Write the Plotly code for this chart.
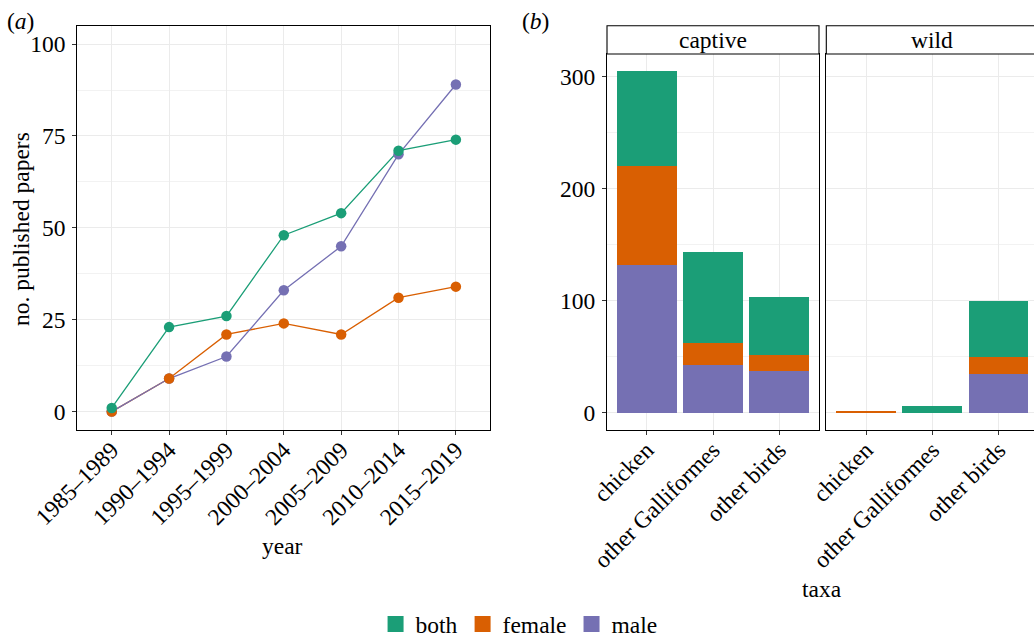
import plotly.graph_objects as go

# ---------------- data ----------------
periods = ["1985–1989", "1990–1994", "1995–1999", "2000–2004", "2005–2009", "2010–2014", "2015–2019"]
both_year = [1, 23, 26, 48, 54, 71, 74]
female_year = [0, 9, 21, 24, 21, 31, 34]
male_year = [0, 9, 15, 33, 45, 70, 89]

taxa = ["chicken", "other Galliformes", "other birds"]
captive_male = [132, 43, 37]
captive_female = [88, 19, 15]
captive_both = [85, 82, 51]
wild_male = [0, 0, 35]
wild_female = [2, 0, 15]
wild_both = [0, 6, 50]

sexes = ["both", "female", "male"]
colors = {"both": "#1B9E77", "female": "#D95F02", "male": "#7570B3"}

FONT = "Liberation Serif"
FS = 23.5
W, H = 1034, 641

def px_x(p):
    return p / W

def px_y(p):
    return 1 - p / H

fig = go.Figure()

year_data = {"both": both_year, "female": female_year, "male": male_year}

# lines first (both, female, male), then points (male, female, both)
for s in ["both", "female", "male"]:
    fig.add_trace(go.Scatter(x=periods, y=year_data[s], mode="lines",
                             line=dict(color=colors[s], width=1.3),
                             showlegend=False, hoverinfo="skip",
                             xaxis="x", yaxis="y"))
for s in ["male", "female", "both"]:
    fig.add_trace(go.Scatter(x=periods, y=year_data[s], mode="markers",
                             marker=dict(color=colors[s], size=10.5),
                             showlegend=False, name=s,
                             xaxis="x", yaxis="y"))

cap = {"male": captive_male, "female": captive_female, "both": captive_both}
wld = {"male": wild_male, "female": wild_female, "both": wild_both}
for s in ["male", "female", "both"]:
    fig.add_trace(go.Bar(x=taxa, y=cap[s], marker=dict(color=colors[s], line=dict(width=0)),
                         width=0.9, showlegend=False, name=s, xaxis="x2", yaxis="y2"))
for s in ["male", "female", "both"]:
    fig.add_trace(go.Bar(x=taxa, y=wld[s], marker=dict(color=colors[s], line=dict(width=0)),
                         width=0.9, showlegend=False, name=s, xaxis="x3", yaxis="y3"))

# legend-only entries
for s in sexes:
    fig.add_trace(go.Scatter(x=[None], y=[None], mode="markers", name=s,
                             marker=dict(color=colors[s], symbol="square", size=20, line=dict(width=0)),
                             xaxis="x", yaxis="y", showlegend=True))

grid_major = "#EBEBEB"
grid_minor = "#F2F2F2"

common_x = dict(type="category", showgrid=True, gridcolor=grid_major, gridwidth=1.1,
                showline=True, linecolor="black", linewidth=1.1,
                ticks="outside", ticklen=4, tickcolor="#333333", tickwidth=1.1,
                tickangle=-45, tickfont=dict(family=FONT, size=FS, color="black"),
                ticklabelstandoff=-8,
                zeroline=False, automargin=False)

xa_dom = [px_x(77.3), px_x(490.3)]
y_dom = [px_y(430), px_y(25.7)]
yb_dom = [px_y(430), px_y(54)]
xb1_dom = [px_x(607), px_x(819)]
xb2_dom = [px_x(826.3), 1.0]

fig.update_layout(
    xaxis=dict(common_x, domain=xa_dom, range=[-0.6, 6.6], mirror=True,
               categoryorder="array", categoryarray=periods),
    yaxis=dict(domain=y_dom, range=[-5, 105], tickvals=[0, 25, 50, 75, 100],
               showgrid=True, gridcolor=grid_major, gridwidth=1.1,
               minor=dict(showgrid=True, gridcolor=grid_minor, gridwidth=0.6, dtick=12.5, tick0=12.5),
               showline=True, linecolor="black", linewidth=1.1, mirror=True,
               ticks="outside", ticklen=4, tickcolor="#333333", tickwidth=1.1,
               ticklabelstandoff=2, automargin=False,
               tickfont=dict(family=FONT, size=FS, color="black"), zeroline=False,
               anchor="x"),
    xaxis2=dict(common_x, domain=xb1_dom, range=[-0.6, 2.6], mirror=True, anchor="y2",
                categoryorder="array", categoryarray=taxa),
    yaxis2=dict(domain=yb_dom, range=[-15.25, 320.25], tickvals=[0, 100, 200, 300],
                showgrid=True, gridcolor=grid_major, gridwidth=1.1,
                minor=dict(showgrid=True, gridcolor=grid_minor, gridwidth=0.6, dtick=50, tick0=50),
                showline=True, linecolor="black", linewidth=1.1, mirror=True,
                ticks="outside", ticklen=4, tickcolor="#333333", tickwidth=1.1,
                ticklabelstandoff=2, automargin=False,
                tickfont=dict(family=FONT, size=FS, color="black"), zeroline=False,
                anchor="x2"),
    xaxis3=dict(common_x, domain=xb2_dom, range=[-0.6, -0.6 + (W - 826.3) / 66.25], mirror=True,
                anchor="y3", categoryorder="array", categoryarray=taxa),
    yaxis3=dict(domain=yb_dom, range=[-15.25, 320.25], tickvals=[0, 100, 200, 300],
                showgrid=True, gridcolor=grid_major, gridwidth=1.1,
                minor=dict(showgrid=True, gridcolor=grid_minor, gridwidth=0.6, dtick=50, tick0=50),
                showline=True, linecolor="black", linewidth=1.1, mirror=False,
                showticklabels=False, ticks="", zeroline=False, anchor="x3", automargin=False),
    barmode="stack",
    bargap=0.1,
    width=W, height=H,
    margin=dict(l=0, r=0, t=0, b=0, autoexpand=False),
    paper_bgcolor="white", plot_bgcolor="white",
    font=dict(family=FONT, size=FS, color="black"),
    legend=dict(orientation="h", x=0.502, xanchor="center", y=-0.008, yanchor="bottom",
                font=dict(family=FONT, size=FS, color="black"), traceorder="normal",
                itemsizing="trace", bgcolor="rgba(0,0,0,0)", tracegroupgap=0),
    showlegend=True,
)

# strips
strip_top = px_y(25.7)
strip_bot = px_y(54)
fig.add_shape(type="rect", xref="paper", yref="paper", x0=xb1_dom[0], x1=xb1_dom[1],
              y0=strip_bot, y1=strip_top, line=dict(color="black", width=1.1), fillcolor="white")
fig.add_shape(type="rect", xref="paper", yref="paper", x0=xb2_dom[0], x1=1.02,
              y0=strip_bot, y1=strip_top, line=dict(color="black", width=1.1), fillcolor="white")

annots = [
    dict(text="captive", x=(xb1_dom[0] + xb1_dom[1]) / 2, y=(strip_top + strip_bot) / 2),
    dict(text="wild", x=px_x(826.3 + 106), y=(strip_top + strip_bot) / 2),
    dict(text="(<i>a</i>)", x=px_x(20.5), y=px_y(21)),
    dict(text="(<i>b</i>)", x=px_x(535.5), y=px_y(21)),
    dict(text="no. published papers", x=px_x(21), y=px_y(229), textangle=-90),
    dict(text="year", x=px_x(282.5), y=px_y(546)),
    dict(text="taxa", x=px_x(821.5), y=px_y(589)),
]
for a in annots:
    fig.add_annotation(xref="paper", yref="paper", showarrow=False,
                       xanchor="center", yanchor="middle",
                       font=dict(family=FONT, size=FS, color="black"), **a)

fig.write_html("out.html", config={"displayModeBar": False},
               post_script="document.body.style.margin='0';document.body.style.padding='0';")
